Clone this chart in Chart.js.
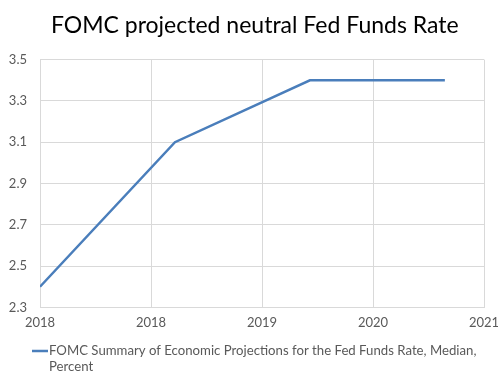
<!DOCTYPE html>
<html>
<head>
<meta charset="utf-8">
<script src="https://cdn.jsdelivr.net/npm/chart.js@4"></script>
<style>
  html, body { margin: 0; padding: 0; background: #fff; }
  #wrap { width: 498px; height: 375px; }
</style>
</head>
<body>
<div id="wrap"><canvas id="chart"></canvas></div>
<script>
// data
const xYears = [2018, 2019, 2020, 2021];
const rateMedian = [2.4, 3.1, 3.4, 3.4];
const xTickLabels = ['2018', '2018', '2019', '2020', '2021'];
const seriesLabel = 'FOMC Summary of Economic Projections for the Fed Funds Rate, Median, Percent';

const FONT = 'Lato, "Open Sans", sans-serif';
const LINE_BLUE = '#4a7ebb';
const GREY_TEXT = '#595959';

// legend that wraps like the spreadsheet one
const wrapLegend = {
  id: 'wrapLegend',
  afterDraw(chart) {
    const ctx = chart.ctx;
    const ds = chart.data.datasets[0];
    ctx.save();
    ctx.font = '13.2px ' + FONT;
    ctx.fillStyle = GREY_TEXT;
    ctx.textBaseline = 'middle';
    const x0 = 49, y0 = 351, maxW = 445;
    const words = ds.label.split(' ');
    const lines = [];
    let cur = '';
    for (const w of words) {
      const test = cur ? cur + ' ' + w : w;
      if (ctx.measureText(test).width > maxW && cur) { lines.push(cur); cur = w; }
      else cur = test;
    }
    if (cur) lines.push(cur);
    lines.forEach((l, i) => ctx.fillText(l, x0, y0 + i * 16));
    ctx.strokeStyle = ds.borderColor;
    ctx.lineWidth = 2.5;
    ctx.beginPath();
    ctx.moveTo(32, y0);
    ctx.lineTo(48, y0);
    ctx.stroke();
    ctx.restore();
  }
};

new Chart(document.getElementById('chart'), {
  type: 'line',
  data: {
    datasets: [{
      label: seriesLabel,
      data: xYears.map((x, i) => ({ x: x, y: rateMedian[i] })),
      borderColor: LINE_BLUE,
      borderWidth: 2.5,
      pointRadius: 0,
      fill: false,
      tension: 0
    }]
  },
  options: {
    responsive: true,
    maintainAspectRatio: false,
    animation: false,
    layout: { padding: { left: 0, right: 0, top: 0, bottom: 36 } },
    plugins: {
      legend: { display: false },
      tooltip: { enabled: false },
      title: {
        display: true,
        // leading en space nudges the centred title right, as in the original
        text: '\u2002FOMC projected neutral Fed Funds Rate',
        color: '#000',
        font: { family: FONT, size: 23, weight: 'normal' },
        padding: { top: 12, bottom: 20 }
      }
    },
    scales: {
      x: {
        type: 'linear',
        min: 2018,
        max: 2021.29,
        afterBuildTicks(scale) {
          const n = xTickLabels.length;
          scale.ticks = xTickLabels.map((_, i) => ({ value: scale.min + i * (scale.max - scale.min) / (n - 1) }));
        },
        afterFit(scale) { scale.paddingRight = 14; scale.paddingLeft = 0; },
        ticks: {
          color: GREY_TEXT,
          font: { family: FONT, size: 13 },
          maxRotation: 0,
          padding: 8,
          callback: (v, i) => xTickLabels[i]
        },
        grid: { color: '#d9d9d9', drawTicks: false },
        border: { color: '#d9d9d9' }
      },
      y: {
        min: 2.3,
        max: 3.5,
        afterFit(scale) { scale.width = 40; },
        ticks: {
          stepSize: 0.2,
          color: GREY_TEXT,
          font: { family: FONT, size: 13 },
          padding: 13,
          callback: v => Number(v).toFixed(1)
        },
        grid: { color: '#d9d9d9', drawTicks: false },
        border: { color: '#d9d9d9' }
      }
    }
  },
  plugins: [wrapLegend]
});
</script>
</body>
</html>
